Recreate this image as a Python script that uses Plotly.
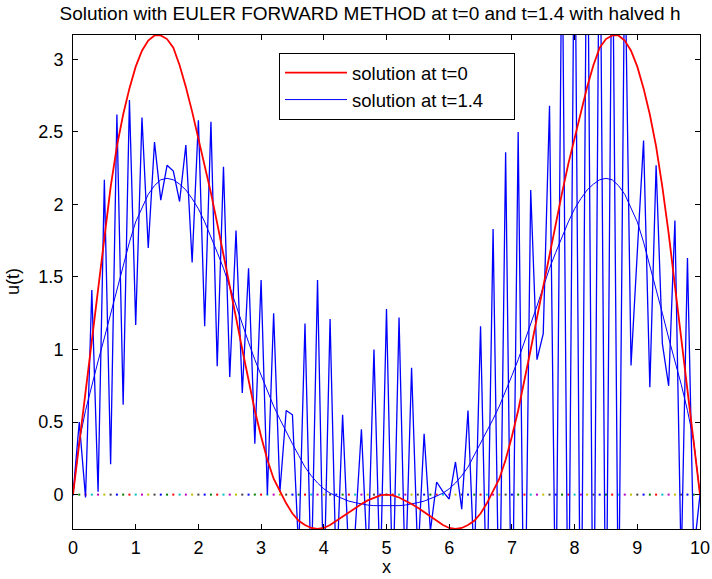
import plotly.graph_objects as go

# grid (h = 0.1)
x_vals = [round(0.1 * i, 1) for i in range(101)]

# solution at t=0 (red)
u_t0 = [0.0, 0.36, 0.72, 1.08, 1.44, 1.80, 2.12, 2.40, 2.62, 2.80,
        2.95, 3.06, 3.13, 3.165, 3.165, 3.14, 3.08, 2.96, 2.81, 2.64,
        2.46, 2.28, 2.08, 1.87, 1.66, 1.44, 1.22, 1.00, 0.78, 0.58,
        0.40, 0.24, 0.11, 0.02, -0.06, -0.13, -0.18, -0.21, -0.23, -0.236,
        -0.23, -0.21, -0.18, -0.15, -0.12, -0.09, -0.065, -0.04, -0.02, -0.005,
        0.0,
        -0.005, -0.02, -0.04, -0.065, -0.09, -0.12, -0.15, -0.18, -0.21, -0.23,
        -0.236, -0.23, -0.21, -0.18, -0.13, -0.06, 0.02, 0.11, 0.24, 0.40,
        0.58, 0.78, 1.00, 1.22, 1.44, 1.66, 1.87, 2.08, 2.28, 2.46,
        2.64, 2.81, 2.96, 3.08, 3.14, 3.165, 3.165, 3.13, 3.06, 2.95,
        2.80, 2.62, 2.40, 2.12, 1.80, 1.44, 1.08, 0.72, 0.36, 0.0]

# smooth solution at t=1.4 (thin blue)
u_smooth = [0.0, 0.37, 0.58, 0.76, 0.92, 1.08, 1.25, 1.42, 1.58, 1.74,
            1.88, 1.98, 2.07, 2.13, 2.17, 2.18, 2.17, 2.14, 2.10, 2.04,
            1.97, 1.88, 1.78, 1.67, 1.56, 1.43, 1.30, 1.17, 1.05, 0.93,
            0.82, 0.71, 0.61, 0.52, 0.43, 0.35, 0.27, 0.19, 0.13, 0.08,
            0.04, 0.01, -0.01, -0.03, -0.045, -0.055, -0.065, -0.072, -0.076, -0.077,
            -0.077,
            -0.077, -0.076, -0.072, -0.065, -0.055, -0.045, -0.03, -0.01, 0.01, 0.04,
            0.08, 0.13, 0.19, 0.27, 0.35, 0.43, 0.52, 0.61, 0.71, 0.82,
            0.93, 1.05, 1.17, 1.30, 1.43, 1.56, 1.67, 1.78, 1.88, 1.97,
            2.04, 2.10, 2.14, 2.17, 2.18, 2.17, 2.13, 2.07, 1.98, 1.88,
            1.74, 1.58, 1.42, 1.25, 1.08, 0.92, 0.76, 0.58, 0.37, 0.0]

# Euler forward with halved h (oscillating blue)
u_euler = [0.0, 0.50, -0.02, 1.41, 0.02, 2.17, 0.21, 2.62, 0.62, 2.72,
           1.17, 2.60, 1.70, 2.43, 2.03, 2.27, 2.23, 2.02, 2.41, 1.60,
           2.58, 1.16, 2.57, 0.885, 2.26, 0.81, 1.82, 0.70, 1.56, 0.35,
           1.48, 0.0, 1.25, 0.02, 0.58, 0.55, -0.4, 1.18, -0.6, 1.48,
           -0.7, 1.21, -0.6, 0.55, -0.45, -0.25, 0.45, -0.5, 1.0, -0.6,
           1.28, -0.7, 1.22, -0.6, 0.875, -0.45, 0.42, -0.25, 0.087, 0.02,
           -0.03, 0.225, -0.10, 0.58, -0.5, 1.16, -0.8, 1.83, -1.0, 2.36,
           -1.2, 2.50, -1.3, 2.10, 0.93, 1.11, 2.68, -1.0, 4.0, -1.3,
           4.3, -1.5, 4.5, -1.5, 4.4, -1.3, 4.2, -1.0, 3.8, 0.89,
           1.67, 2.44, 0.74, 2.27, 1.04, 0.75, 1.89, -0.5, 1.63, -0.4,
           0.0]

zero_line = [0.0] * 101
matlab_colors = ["#0000ff", "#008000", "#ff0000", "#00bfbf", "#bf00bf", "#bfbf00", "#404040"]

x_ticks = [0, 1, 2, 3, 4, 5, 6, 7, 8, 9, 10]
y_ticks = [0, 0.5, 1, 1.5, 2, 2.5, 3]
y_tick_text = ["0", "0.5", "1", "1.5", "2", "2.5", "3"]

legend_names = ["solution at t=0", "solution at t=1.4"]

FONT = "Liberation Sans, Arial, Helvetica, sans-serif"

W, H = 712, 579
L, R, T, B = 73, 12, 35, 50
PAD = "\u00a0" * 5

fig = go.Figure()

fig.add_trace(go.Scatter(
    x=x_vals, y=zero_line, mode="markers", showlegend=False,
    marker=dict(symbol="square", size=2, color=[matlab_colors[i % 7] for i in range(101)],
                line=dict(width=0)),
    hoverinfo="skip"))

fig.add_trace(go.Scatter(
    x=x_vals, y=u_euler, mode="lines", showlegend=False,
    line=dict(color="#0000ff", width=1.3)))

fig.add_trace(go.Scatter(
    x=x_vals, y=u_smooth, mode="lines", name=legend_names[1] + PAD,
    line=dict(color="#0000ff", width=1), legendrank=2))

fig.add_trace(go.Scatter(
    x=x_vals, y=u_t0, mode="lines", name=legend_names[0],
    line=dict(color="#ff0000", width=1.8), legendrank=1))

pw = W - L - R
ph = H - T - B

fig.update_layout(
    width=W, height=H,
    margin=dict(l=L, r=R, t=T, b=B, pad=0, autoexpand=False),
    paper_bgcolor="white", plot_bgcolor="white",
    font=dict(family=FONT, size=18, color="black"),
    title=dict(text="Solution with EULER FORWARD METHOD at t=0 and t=1.4 with halved h",
               x=370 / W, xanchor="center", y=1 - 13 / H, yanchor="middle",
               font=dict(size=19, family=FONT)),
    showlegend=True,
    legend=dict(x=(279 - L) / pw, y=(H - B - 53) / ph, xanchor="left", yanchor="top",
                bgcolor="white", bordercolor="black", borderwidth=1,
                font=dict(size=18.5, family=FONT), itemwidth=62, tracegroupgap=0),
    xaxis=dict(range=[0, 10], tickvals=x_ticks, ticks="inside", ticklen=5,
               tickcolor="black", showline=True, linecolor="black", linewidth=1,
               mirror="ticks", showgrid=False, zeroline=False, automargin=False,
               ticklabelstandoff=2, tickfont=dict(size=18)),
    yaxis=dict(range=[-0.237, 3.168], tickvals=y_ticks, ticktext=y_tick_text,
               ticks="inside", ticklen=5, tickcolor="black", showline=True,
               linecolor="black", linewidth=1, mirror="ticks", showgrid=False,
               zeroline=False, automargin=False, ticklabelstandoff=5,
               tickfont=dict(size=18)),
    annotations=[
        dict(text="x", xref="paper", yref="paper", x=(386 - L) / pw, y=-(579 - (H - B)) / ph,
             xanchor="center", yanchor="bottom", showarrow=False, font=dict(size=18)),
        dict(text="u(t)", xref="paper", yref="paper", x=-(L - 13) / pw, y=0.5,
             xanchor="center", yanchor="middle", textangle=-90, showarrow=False,
             font=dict(size=18)),
    ],
)

fig.write_html("out.html")
